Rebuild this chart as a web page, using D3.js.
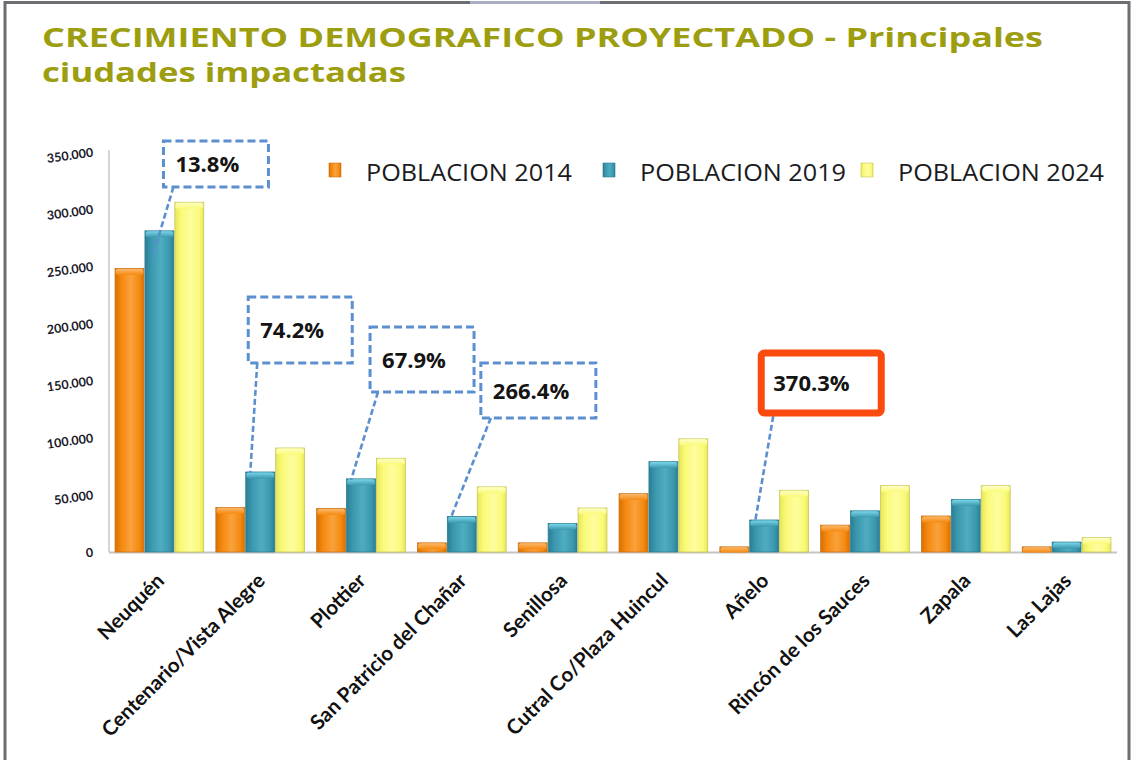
<!DOCTYPE html>
<html>
<head>
<meta charset="utf-8">
<script src="https://cdn.jsdelivr.net/npm/d3@7/dist/d3.min.js"></script>
<style>
  html, body { margin: 0; padding: 0; background: #ffffff; }
  svg { display: block; }
</style>
</head>
<body>
<svg id="chart" width="1136" height="760"></svg>
<script>
// ---- data ----
const cities = ["Neuquén", "Centenario/Vista Alegre", "Plottier", "San Patricio del Chañar",
  "Senillosa", "Cutral Co/Plaza Huincul", "Añelo", "Rincón de los Sauces", "Zapala", "Las Lajas"];
const seriesNames = ["POBLACION 2014", "POBLACION 2019", "POBLACION 2024"];
const pop2014 = [248000, 39000, 38000, 8000, 8000, 51000, 4500, 23500, 31500, 4500];
const pop2019 = [281000, 70000, 64000, 31000, 25000, 79000, 28000, 36000, 46000, 8700];
const pop2024 = [306000, 91000, 82000, 57000, 38500, 99000, 54000, 58000, 58000, 12500];
const yTicks = [0, 50000, 100000, 150000, 200000, 250000, 300000, 350000];
const callCities = ["Neuquén", "Centenario/Vista Alegre", "Plottier", "San Patricio del Chañar", "Añelo"];
const callLabels = ["13.8%", "74.2%", "67.9%", "266.4%", "370.3%"];

const series = [pop2014, pop2019, pop2024];

// ---- layout ----
const svg = d3.select("#chart");
const W = 1136, H = 760;
const plot = { left: 109, right: 1117, top: 152, bottom: 552 };

const x = d3.scaleBand().domain(cities).range([plot.left, plot.right]).paddingInner(0.11).paddingOuter(0.055);
const xs = d3.scaleBand().domain(d3.range(3)).range([0, x.bandwidth()]);
const y = d3.scaleLinear().domain([0, 350000]).range([plot.bottom, plot.top]);

const locale = d3.formatLocale({ decimal: ",", thousands: ".", grouping: [3], currency: ["", ""] });
const fmt = locale.format(",");

// colour ramps for the bevelled bars
const palette = [
  { edge: "#d86f00", body: "#f5890f", light: "#f9a23c", cap: "#fbb86a", stroke: "#c9741a" },
  { edge: "#2a7f95", body: "#3b98ae", light: "#4fadc2", cap: "#7ad7ea", stroke: "#2c7d90" },
  { edge: "#e7e75a", body: "#fafa78", light: "#fdfd9e", cap: "#fefec4", stroke: "#c8c65a" }
];

const defs = svg.append("defs");
palette.forEach((p, i) => {
  const g = defs.append("linearGradient").attr("id", "bar" + i).attr("x1", "0").attr("x2", "1").attr("y1", "0").attr("y2", "0");
  g.append("stop").attr("offset", "0%").attr("stop-color", p.edge);
  g.append("stop").attr("offset", "22%").attr("stop-color", p.body);
  g.append("stop").attr("offset", "55%").attr("stop-color", p.light);
  g.append("stop").attr("offset", "85%").attr("stop-color", p.body);
  g.append("stop").attr("offset", "100%").attr("stop-color", p.edge);
  const c = defs.append("linearGradient").attr("id", "cap" + i).attr("x1", "0").attr("x2", "0").attr("y1", "0").attr("y2", "1");
  c.append("stop").attr("offset", "0%").attr("stop-color", p.cap);
  c.append("stop").attr("offset", "100%").attr("stop-color", p.body);
});

// ---- frame ----
svg.append("rect").attr("x", 0).attr("y", 0).attr("width", W).attr("height", H).attr("fill", "#ffffff");
svg.append("path")
  .attr("d", `M5,${H} V2.5 H1129 V${H}`)
  .attr("fill", "none").attr("stroke", "#6d6d72").attr("stroke-width", 3);
svg.append("line").attr("x1", 470).attr("x2", 600).attr("y1", 2.5).attr("y2", 2.5)
  .attr("stroke", "#a9aec4").attr("stroke-width", 3);

// ---- title ----
const titleFont = "'Open Sans', 'DejaVu Sans', sans-serif";
const t1 = svg.append("text").attr("x", 42).attr("y", 47)
  .attr("font-family", titleFont).attr("font-weight", 700).attr("font-size", 27)
  .attr("fill", "#9d9d10")
  .text("CRECIMIENTO DEMOGRAFICO PROYECTADO - Principales");
const t2 = svg.append("text").attr("x", 42).attr("y", 82)
  .attr("font-family", titleFont).attr("font-weight", 700).attr("font-size", 27)
  .attr("fill", "#9d9d10")
  .text("ciudades impactadas");
t1.attr("textLength", 1001).attr("lengthAdjust", "spacingAndGlyphs");
t2.attr("textLength", 364).attr("lengthAdjust", "spacingAndGlyphs");

// ---- axes ----
const labelFont = "Lato, 'Open Sans', sans-serif";
const yAxis = d3.axisLeft(y).tickValues(yTicks).tickFormat(fmt).tickSize(0).tickPadding(10);
const gy = svg.append("g").attr("transform", `translate(${plot.left},0)`).call(yAxis);
gy.select(".domain").attr("stroke", "#c8c8c8").attr("stroke-width", 1.5)
  .attr("d", `M0,${plot.top - 2}V${plot.bottom}`);
gy.selectAll(".tick text")
  .attr("font-family", labelFont).attr("font-weight", 700).attr("font-size", 12.5)
  .attr("fill", "#1a1a2a")
  .attr("x", -16)
  .attr("transform", "rotate(-8)")
  .style("transform-box", "fill-box").style("transform-origin", "right center");

// baseline
svg.append("line").attr("x1", plot.left).attr("x2", plot.right)
  .attr("y1", plot.bottom + 0.5).attr("y2", plot.bottom + 0.5)
  .attr("stroke", "#c4c4c4").attr("stroke-width", 2);

const xAxis = d3.axisBottom(x).tickSize(0).tickPadding(0);
const gx = svg.append("g").attr("transform", `translate(0,${plot.bottom})`).call(xAxis);
gx.select(".domain").remove();
gx.selectAll(".tick text")
  .attr("font-family", labelFont).attr("font-weight", 700).attr("font-size", 20.5)
  .attr("fill", "#111")
  .attr("text-anchor", "end")
  .attr("x", 0).attr("y", 0).attr("dy", 0)
  .attr("transform", "translate(6,30) rotate(-45)");

// ---- bars ----
const bars = svg.append("g");
cities.forEach((c, ci) => {
  series.forEach((s, si) => {
    const bx = x(c) + xs(si) + 0.5;
    const bw = xs.bandwidth() - 1;
    const by = y(s[ci]);
    const bh = plot.bottom - by;
    bars.append("rect").attr("x", bx).attr("y", by).attr("width", bw).attr("height", bh)
      .attr("fill", `url(#bar${si})`).attr("stroke", palette[si].stroke).attr("stroke-width", 0.8);
    const capH = Math.min(6, bh);
    bars.append("rect").attr("x", bx + 0.6).attr("y", by + 0.4).attr("width", bw - 1.2).attr("height", capH)
      .attr("rx", 2).attr("fill", `url(#cap${si})`);
  });
});

// ---- legend ----
const legX = [329, 603, 861];
const legend = svg.append("g");
seriesNames.forEach((n, i) => {
  legend.append("rect").attr("x", legX[i]).attr("y", 163).attr("width", 12).attr("height", 14)
    .attr("fill", `url(#bar${i})`).attr("stroke", palette[i].stroke).attr("stroke-width", 0.6);
  legend.append("text").attr("x", legX[i] + 37).attr("y", 181)
    .attr("font-family", "'Liberation Sans Narrow', 'Open Sans', sans-serif")
    .attr("font-size", 24).attr("fill", "#1b1b22")
    .attr("textLength", 206).attr("lengthAdjust", "spacingAndGlyphs")
    .text(n);
});

// ---- callouts (boxes placed relative to the 2019 bar they point at) ----
const callLayout = [
  { dx: 19, top: 141, w: 105, h: 46, ax: 10, tipDx: 8, tipDy: 26 },
  { dx: 3, top: 297, w: 104, h: 66, ax: 9, tipDx: 5, tipDy: 1 },
  { dx: 24, top: 327, w: 104, h: 65, ax: 8, tipDx: 5, tipDy: 1 },
  { dx: 34, top: 363, w: 115, h: 55, ax: 10, tipDx: 4, tipDy: 1 },
  { dx: 12, top: 353, w: 120, h: 60, ax: 12, tipDx: 6, tipDy: 1, alert: true }
];
const callG = svg.append("g");
callCities.forEach((c, k) => {
  const L = callLayout[k];
  const ci = cities.indexOf(c);
  const barLeft = x(c) + xs(1);
  const barTop = y(pop2019[ci]);
  const bx = barLeft + L.dx, by = L.top;
  const blue = "#5b8fd0";
  callG.append("line")
    .attr("x1", bx + L.ax).attr("y1", by + L.h + (L.alert ? 3 : 0))
    .attr("x2", barLeft + L.tipDx).attr("y2", barTop + L.tipDy)
    .attr("stroke", blue).attr("stroke-width", 2.6).attr("stroke-dasharray", "6,3");
  if (L.alert) {
    callG.append("rect").attr("x", bx).attr("y", by).attr("width", L.w).attr("height", L.h)
      .attr("rx", 3).attr("fill", "#fff").attr("stroke", "#fb4a0e").attr("stroke-width", 7);
  } else {
    callG.append("rect").attr("x", bx).attr("y", by).attr("width", L.w).attr("height", L.h)
      .attr("fill", "#fff").attr("stroke", blue).attr("stroke-width", 3).attr("stroke-dasharray", "8,4");
  }
  callG.append("text").attr("x", bx + 12).attr("y", by + L.h / 2 + 8)
    .attr("font-family", "'Open Sans', sans-serif").attr("font-weight", 700).attr("font-size", 22)
    .attr("fill", "#141414")
    .text(callLabels[k]);
});
</script>
</body>
</html>
